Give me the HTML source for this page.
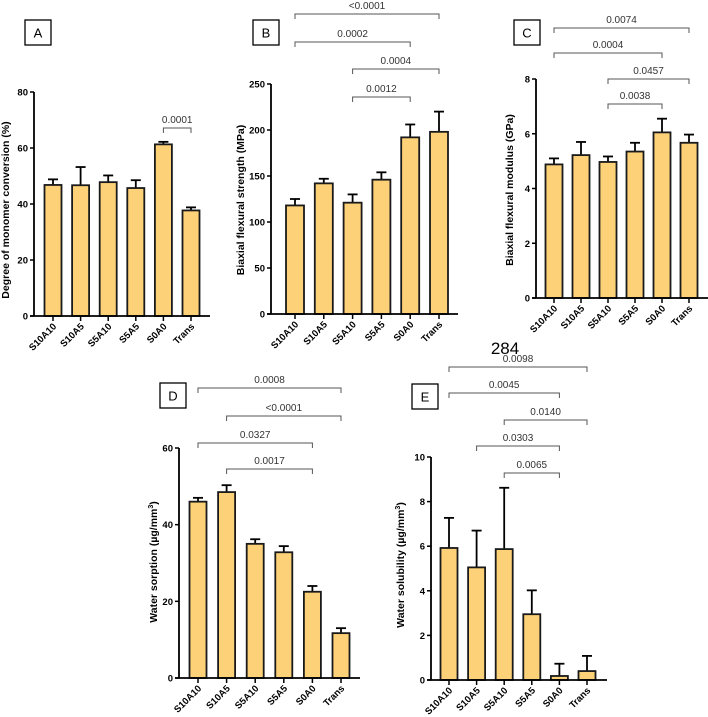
<!DOCTYPE html>
<html><head><meta charset="utf-8">
<style>
html,body{margin:0;padding:0;background:#fff;}
svg{display:block;font-family:"Liberation Sans",Arial,sans-serif;}
</style></head>
<body>
<svg id="fig" width="708" height="717" viewBox="0 0 708 717" xmlns="http://www.w3.org/2000/svg">
<text x="505" y="354" font-size="17" text-anchor="middle" fill="#000">284</text>
</svg>
<script>
const categories = ["S10A10","S10A5","S5A10","S5A5","S0A0","Trans"];
const valuesA = [46.8,46.7,47.8,45.7,61.3,37.7];
const errorsA = [2.0,6.5,2.4,2.8,0.9,1.1];
const ticksA = [0,20,40,60,80];
const valuesB = [118,142,121,146,192,198];
const errorsB = [7,5,9,8,14,22];
const ticksB = [0,50,100,150,200,250];
const valuesC = [4.88,5.22,4.97,5.35,6.05,5.67];
const errorsC = [0.22,0.48,0.2,0.32,0.5,0.3];
const ticksC = [0,2,4,6,8];
const valuesD = [46,48.5,35,32.8,22.5,11.7];
const errorsD = [1.0,1.8,1.2,1.6,1.5,1.3];
const ticksD = [0,20,40,60];
const valuesE = [5.92,5.05,5.87,2.95,0.18,0.4];
const errorsE = [1.35,1.65,2.75,1.07,0.55,0.68];
const ticksE = [0,2,4,6,8,10];
// brackets: [fromIndex, toIndex, label]
const bracketsA = [[4,5,"0.0001"]];
const bracketsB = [[0,5,"<0.0001"],[0,4,"0.0002"],[2,5,"0.0004"],[2,4,"0.0012"]];
const bracketsC = [[0,5,"0.0074"],[0,4,"0.0004"],[2,5,"0.0457"],[2,4,"0.0038"]];
const bracketsD = [[0,5,"0.0008"],[1,5,"<0.0001"],[0,4,"0.0327"],[1,4,"0.0017"]];
const bracketsE = [[0,5,"0.0098"],[0,4,"0.0045"],[2,5,"0.0140"],[1,4,"0.0303"],[2,4,"0.0065"]];

const NS="http://www.w3.org/2000/svg";
const svg=document.getElementById('fig');
function mk(tag,attrs,parent){const e=document.createElementNS(NS,tag);for(const k in attrs)e.setAttribute(k,attrs[k]);(parent||svg).appendChild(e);return e;}

function panel(p){
  const g=mk('g',{});
  
  
  const max=p.ticks[p.ticks.length-1];
  const y=v=>p.y0-(v/max)*(p.y0-p.yTop);
  const x=i=>p.x0+i*p.step;
  const b=mk('rect',{x:p.box[0],y:p.box[1],width:26,height:25,fill:'#fff',stroke:'#000','stroke-width':1.3},g);
  
  
  const bt=mk('text',{x:p.box[0]+13,y:p.box[1]+17.5,'font-size':13,'text-anchor':'middle'},g);bt.textContent=p.id;
  
  
  p.values.forEach((v,i)=>{
    const cx=x(i), top=y(v), et=y(v+p.errors[i]);
    mk('line',{x1:cx,y1:top,x2:cx,y2:et,stroke:'#000','stroke-width':1.8},g);
    const cap=mk('line',{x1:cx-5,y1:et,x2:cx+5,y2:et,stroke:'#000','stroke-width':1.8},g);
    
    
    const r=mk('rect',{x:cx-p.bw/2,y:top,width:p.bw,height:p.y0-top,fill:'#FDD178',stroke:'#1a1a1a','stroke-width':1.8},g);
    
    
    mk('line',{x1:cx,y1:p.y0,x2:cx,y2:p.y0+5,stroke:'#000','stroke-width':1.5},g);
    const t=mk('text',{x:0,y:0,'font-size':9.5,'font-weight':'bold','text-anchor':'end',transform:`translate(${cx+4},${p.y0+11}) rotate(-45)`},g);
    t.textContent=categories[i];
    
    
  });
  const ya=mk('line',{x1:p.ax,y1:p.yTop,x2:p.ax,y2:p.y0,stroke:'#000','stroke-width':1.8},g);
  
  
  const xa=mk('line',{x1:p.ax-4,y1:p.y0,x2:p.xEnd,y2:p.y0,stroke:'#000','stroke-width':1.8},g);
  
  
  p.ticks.forEach(tv=>{
    mk('line',{x1:p.ax-4,y1:y(tv),x2:p.ax,y2:y(tv),stroke:'#000','stroke-width':1.5},g);
    const t=mk('text',{x:p.ax-6,y:y(tv)+3.5,'font-size':9.5,'font-weight':'bold','text-anchor':'end'},g);
    t.textContent=tv;
    
    
  });
  const yt=mk('text',{x:0,y:0,'font-size':10.5,'font-weight':'bold','text-anchor':'middle',transform:`translate(${p.titleX},${p.titleY}) rotate(-90)`},g);
  yt.innerHTML=p.title;
  
  
  p.brackets.forEach((br,k)=>{
    const ly=p.bY[k], x1=x(br[0]), x2=x(br[1]);
    const pl=mk('polyline',{points:`${x1},${ly+5} ${x1},${ly} ${x2},${ly} ${x2},${ly+5}`,fill:'none',stroke:'#555','stroke-width':1},g);
    
    
    const t=mk('text',{x:(x1+x2)/2,y:ly-5,'font-size':10,'text-anchor':'middle',fill:'#333'},g);
    t.textContent=br[2];
    
    
  });
}

panel({id:'A',values:valuesA,errors:errorsA,ticks:ticksA,brackets:bracketsA,bY:[128],
  x0:53,step:27.6,bw:17,ax:34,y0:316,yTop:92,xEnd:210,box:[25,20],
  title:'Degree of monomer conversion (%)',titleX:9,titleY:210});
panel({id:'B',values:valuesB,errors:errorsB,ticks:ticksB,brackets:bracketsB,bY:[14,42,69,97],
  x0:295,step:28.8,bw:18,ax:271,y0:314,yTop:84,xEnd:458,box:[253,20],
  title:'Biaxial flexural strength (MPa)',titleX:244,titleY:200});
panel({id:'C',values:valuesC,errors:errorsC,ticks:ticksC,brackets:bracketsC,bY:[28,53,79,104],
  x0:554,step:27,bw:17,ax:536,y0:298,yTop:79,xEnd:708,box:[514,20],
  title:'Biaxial flexural modulus (GPa)',titleX:513,titleY:190});
panel({id:'D',values:valuesD,errors:errorsD,ticks:ticksD,brackets:bracketsD,bY:[388,416,443,469],
  x0:198,step:28.6,bw:17,ax:179,y0:678,yTop:448,xEnd:360,box:[160,383],
  title:'Water sorption (µg/mm<tspan font-size="7" dy="-4">3</tspan><tspan dy="4">)</tspan>',titleX:157,titleY:562});
panel({id:'E',values:valuesE,errors:errorsE,ticks:ticksE,brackets:bracketsE,bY:[367,393,420,446,473],
  x0:449,step:27.6,bw:17,ax:431,y0:680,yTop:457,xEnd:607,box:[412,384],
  title:'Water solubility (µg/mm<tspan font-size="7" dy="-4">3</tspan><tspan dy="4">)</tspan>',titleX:404,titleY:565});
</script>
</body></html>
